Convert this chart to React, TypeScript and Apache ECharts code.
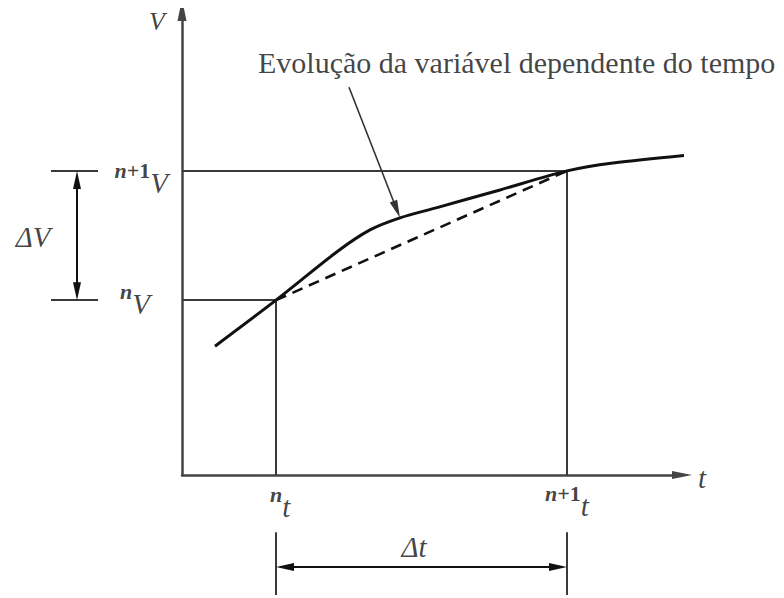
import React, { useEffect, useRef } from "react";
import * as echarts from "echarts";

// Time instants and values of the dependent variable at the two steps
const tN = 1.88;
const tN1 = 7.7;
const vN = 3.76;
const vN1 = 6.54;

// Samples of the evolving variable V(t)
const curveT = [0.66, 1.88, 3.1, 3.76, 4.36, 5.1, 6.36, 7.7, 8.62, 10.3];
const curveV = [2.77, 3.76, 4.8, 5.27, 5.53, 5.75, 6.13, 6.54, 6.71, 6.9];

// Dimension-line placement (in axis units)
const dvTickFrom = -2.62;
const dvTickTo = -1.68;
const dvArrowT = -2.1;
const dtTickFrom = -1.23;
const dtTickTo = -2.58;
const dtArrowV = -1.98;

// Annotation arrow: from the caption down to the curve
const noteFrom = [3.34, 8.34];
const noteTo = [4.36, 5.53];

const caption = "Evolução da variável dependente do tempo";

// Axis ranges and plot box
const T_MAX = 10;
const V_MAX = 10;
const GRID = { left: 174, top: 2, width: 500, height: 465 };
const PX_T = GRID.width / T_MAX;
const PX_V = GRID.height / V_MAX;

const SERIF = "Liberation Serif, Times New Roman, Times, serif";
const INK = "#111";
const GUIDE = "#3a3a3a";
const HEAD_LEN = 18;

// Pull a segment end back so an arrow head's tip lands on the given point
function pullBack(from: number[], to: number[], px: number): number[] {
  const dx = (to[0] - from[0]) * PX_T;
  const dy = (to[1] - from[1]) * PX_V;
  const len = Math.hypot(dx, dy);
  return [to[0] - (dx / len) * px / PX_T, to[1] - (dy / len) * px / PX_V];
}

export default function App() {
  const ref = useRef<HTMLDivElement>(null);

  useEffect(() => {
    if (!ref.current) return;
    const chart = echarts.init(ref.current, undefined, { renderer: "svg" });

    const curve = curveT.map((t, i) => [t, curveV[i]]);

    const rich = {
      ni: { fontFamily: SERIF, fontSize: 22, fontStyle: "italic", fontWeight: "bold", color: INK, verticalAlign: "top", lineHeight: 22 },
      su: { fontFamily: SERIF, fontSize: 22, fontWeight: "bold", color: INK, verticalAlign: "top", lineHeight: 22 },
      m: { fontFamily: SERIF, fontSize: 29, fontStyle: "italic", color: INK, verticalAlign: "bottom", lineHeight: 38 },
      d: { fontFamily: SERIF, fontSize: 29, fontStyle: "italic", color: INK, lineHeight: 32 },
    };

    const lbl = (
      pos: number[],
      text: string,
      align: string,
      offset: number[] = [0, 0],
      extra: any = {}
    ) => ({
      value: pos,
      label: {
        show: true,
        position: "inside",
        formatter: text,
        align,
        verticalAlign: "middle",
        offset,
        fontFamily: SERIF,
        rich,
        ...extra,
      },
    });

    const seg = (a: number[], b: number[]) => ({ coords: [a, b] });
    const dbl = (a: number[], b: number[]) => ({
      coords: [pullBack(b, a, HEAD_LEN / 2), pullBack(a, b, HEAD_LEN / 2)],
    });
    const head = [8, HEAD_LEN];

    chart.setOption({
      animation: false,
      backgroundColor: "#fff",
      textStyle: { fontFamily: SERIF },
      grid: GRID,
      xAxis: {
        type: "value",
        min: 0,
        max: T_MAX,
        axisLine: {
          show: true,
          symbol: ["none", "triangle"],
          symbolSize: [8, 20],
          lineStyle: { color: "#444", width: 2.5 },
        },
        axisTick: { show: false },
        axisLabel: { show: false },
        splitLine: { show: false },
      },
      yAxis: {
        type: "value",
        min: 0,
        max: V_MAX,
        axisLine: {
          show: true,
          symbol: ["none", "triangle"],
          symbolSize: [9, 22],
          lineStyle: { color: "#444", width: 2.5 },
        },
        axisTick: { show: false },
        axisLabel: { show: false },
        splitLine: { show: false },
      },
      series: [
        {
          name: "guias",
          type: "lines",
          coordinateSystem: "cartesian2d",
          clip: false,
          silent: true,
          symbol: ["none", "none"],
          lineStyle: { color: GUIDE, width: 2, opacity: 1 },
          data: [
            seg([0, vN1], [tN1, vN1]),
            seg([0, vN], [tN, vN]),
            seg([tN, 0], [tN, vN]),
            seg([tN1, 0], [tN1, vN1]),
            seg([dvTickFrom, vN1], [dvTickTo, vN1]),
            seg([dvTickFrom, vN], [dvTickTo, vN]),
            seg([tN, dtTickFrom], [tN, dtTickTo]),
            seg([tN1, dtTickFrom], [tN1, dtTickTo]),
          ],
        },
        {
          name: "cotas",
          type: "lines",
          coordinateSystem: "cartesian2d",
          clip: false,
          silent: true,
          symbol: ["triangle", "triangle"],
          symbolSize: [head, head],
          lineStyle: { color: INK, width: 2, opacity: 1 },
          itemStyle: { color: INK },
          data: [
            dbl([dvArrowT, vN], [dvArrowT, vN1]),
            dbl([tN, dtArrowV], [tN1, dtArrowV]),
          ],
        },
        {
          name: "seta",
          type: "lines",
          coordinateSystem: "cartesian2d",
          clip: false,
          silent: true,
          symbol: ["none", "triangle"],
          symbolSize: [head, head],
          lineStyle: { color: "#333", width: 1.6, opacity: 1 },
          data: [{ coords: [noteFrom, pullBack(noteFrom, noteTo, HEAD_LEN / 2)] }],
        },
        {
          name: "corda",
          type: "line",
          clip: false,
          silent: true,
          symbol: "none",
          lineStyle: { color: INK, width: 2.6, type: [11, 7] },
          data: [
            [tN, vN],
            [tN1, vN1],
          ],
          z: 3,
        },
        {
          name: "V(t)",
          type: "line",
          clip: false,
          silent: true,
          smooth: 0.3,
          symbol: "none",
          lineStyle: { color: INK, width: 3 },
          data: curve,
          z: 4,
        },
        {
          name: "rótulos",
          type: "scatter",
          clip: false,
          silent: true,
          symbolSize: 1,
          itemStyle: { color: "rgba(0,0,0,0)" },
          data: [
            lbl([-0.5, 9.81], "V", "center", [0, 3], {
              fontSize: 26,
              fontStyle: "italic",
              color: INK,
              lineHeight: 22,
            }),
            lbl([10.4, -0.06], "{d|t}", "center"),
            lbl([-0.28, vN1], "{ni|n}{su|+1}{m|V}", "right", [0, 8]),
            lbl([-0.64, vN], "{ni|n}{m|V}", "right", [0, -1]),
            lbl([tN, 0], "{ni|n}{m|t}", "left", [-6, 27]),
            lbl([tN1, 0], "{ni|n}{su|+1}{m|t}", "center", [0, 26]),
            lbl([4.64, -1.55], "{d|Δt}", "center"),
            lbl([-2.98, 5.12], "{d|ΔV}", "center"),
            lbl([1.52, 8.88], caption, "left", [0, 0], {
              fontSize: 30,
              color: INK,
            }),
          ],
          z: 5,
        },
      ],
    });

    return () => chart.dispose();
  }, []);

  return <div ref={ref} style={{ width: 784, height: 598 }} />;
}
